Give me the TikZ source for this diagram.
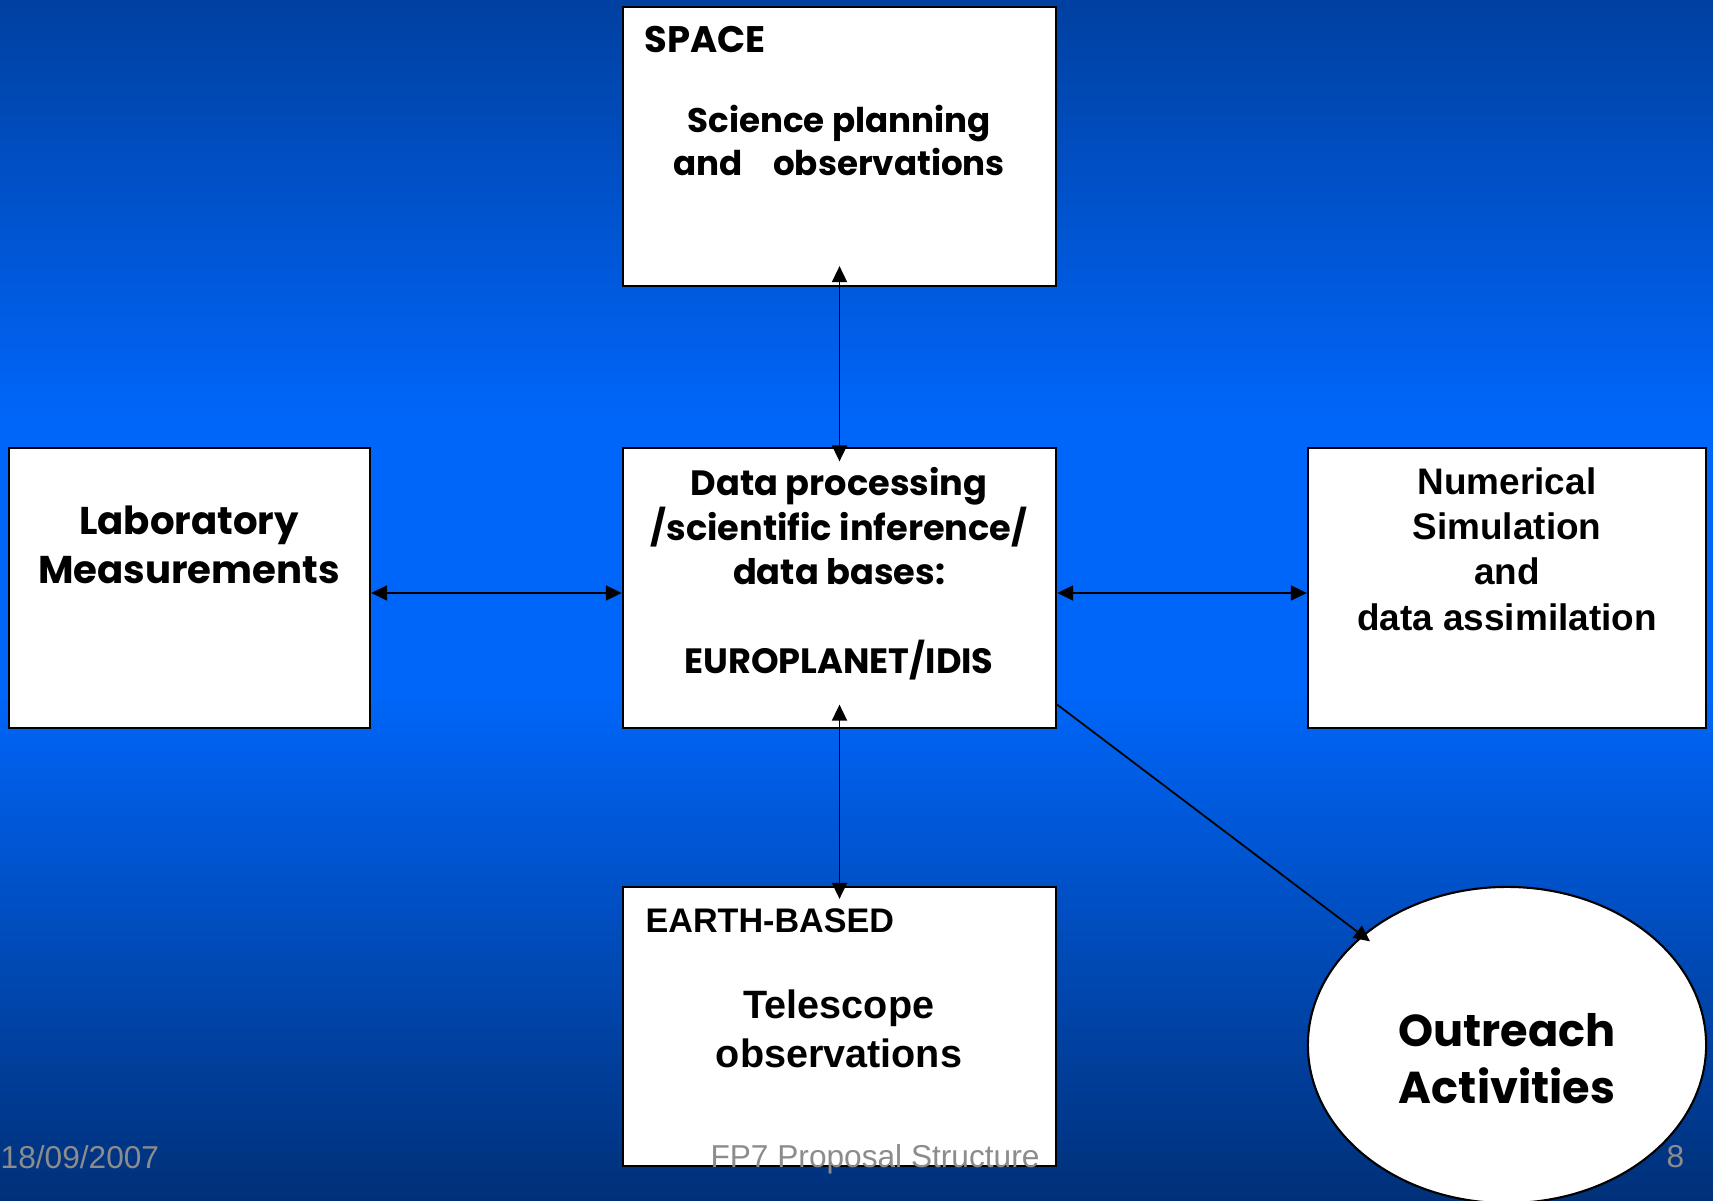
\documentclass[tikz,border=0pt]{standalone}
\usepackage{fontspec}
\setmainfont{Liberation Sans}
\newfontfamily\comic{Poppins}
\usetikzlibrary{arrows.meta, positioning, shapes.geometric}
\definecolor{bgtop}{RGB}{0,64,160}
\definecolor{bgmid}{RGB}{0,102,250}
\definecolor{bgbot}{RGB}{0,48,120}
\definecolor{footgray}{RGB}{140,140,140}

\begin{document}
\begin{tikzpicture}[x=0.01cm, y=-0.01cm,
	>={Triangle[length=1.6mm, width=1.5mm]},
	box/.style={draw=black, fill=white, line width=0.6pt,
		minimum width=4.33cm, minimum height=2.79cm, inner sep=0pt},
	lbl/.style={anchor=base, align=center, inner sep=0pt},
	link/.style={<->, line width=0.5pt},
	foot/.style={inner sep=0pt, text=footgray, font=\fontsize{9}{11}\selectfont}
	]
	% fond
	\useasboundingbox (0,0) rectangle (1713,1201);
	\shade[top color=bgtop, bottom color=bgmid] (0,0) rectangle (1713,421);
	\fill[bgmid] (0,420) rectangle (1713,691);
	\shade[top color=bgmid, bottom color=bgbot] (0,690) rectangle (1713,1201);
	
	% Boites
	\node[box] (space) at (839.5,146.5) {};
	\node[box] (data) at (839.5,588) {};
	\node[box, minimum width=3.61cm] (lab) at (189.5,588) {};
	\node[box, minimum width=3.98cm] (num) at (1507,588) {};
	\node[box] (earth) at (839.5,1026.5) {};
	\node[ellipse, draw=black, fill=white, line width=0.6pt,
		minimum width=3.98cm, minimum height=3.16cm, inner sep=0pt] (out) at (1507,1045) {};
	
	% Textes (base = derniere ligne)
	\node[lbl, anchor=base west, font=\comic\bfseries\fontsize{10.5}{12}\selectfont] (spacet) at (644,53) {SPACE};
	\node[lbl, font=\comic\bfseries\fontsize{9.7}{12.5}\selectfont] (sci) at (839,176)
		{Science planning\\and\hspace{0.9em}observations};
	\node[lbl, font=\comic\bfseries\fontsize{10}{12.6}\selectfont] (datat) at (839,673)
		{Data processing\\/scientific inference/\\data bases:\\[12.6pt]EUROPLANET/IDIS};
	\node[lbl, font=\comic\bfseries\fontsize{11}{14.2}\selectfont] (labt) at (189,584)
		{Laboratory\\Measurements};
	\node[lbl, font=\bfseries\fontsize{10.5}{12.8}\selectfont] (numt) at (1507,630)
		{Numerical\\Simulation\\and\\data assimilation};
	\node[lbl, anchor=base west, font=\bfseries\fontsize{9.7}{12}\selectfont] (eartht) at (645,932) {EARTH-BASED};
	\node[lbl, font=\bfseries\fontsize{11.25}{13.7}\selectfont] (tel) at (839,1067)
		{Telescope\\observations};
	\node[lbl, font=\comic\bfseries\fontsize{12.7}{16.2}\selectfont] (outt) at (1507,1103)
		{Outreach\\Activities};
	
	% Fleches
	\draw[link, shorten <=-2.1mm, shorten >=-1.4mm] (space.south) -- (data.north);
	\draw[link, shorten <=-2.4mm, shorten >=-1.3mm] (data.south) -- (earth.north);
	\draw[link] ([yshift=-0.05cm]lab.east) -- ([yshift=-0.05cm]data.west);
	\draw[link] ([yshift=-0.05cm]data.east) -- ([yshift=-0.05cm]num.west);
	\draw[->, line width=0.5pt, shorten >=-1mm] ([yshift=0.24cm]data.south east) -- (out);
	
	% Pied de page
	\node[foot, anchor=base west] (date) at (0,1168) {18/09/2007};
	\node[foot, anchor=base] (titre) at (875,1167) {FP7 Proposal Structure};
	\node[foot, anchor=base east] (page) at (1685,1167) {8};
\end{tikzpicture}
\end{document}
